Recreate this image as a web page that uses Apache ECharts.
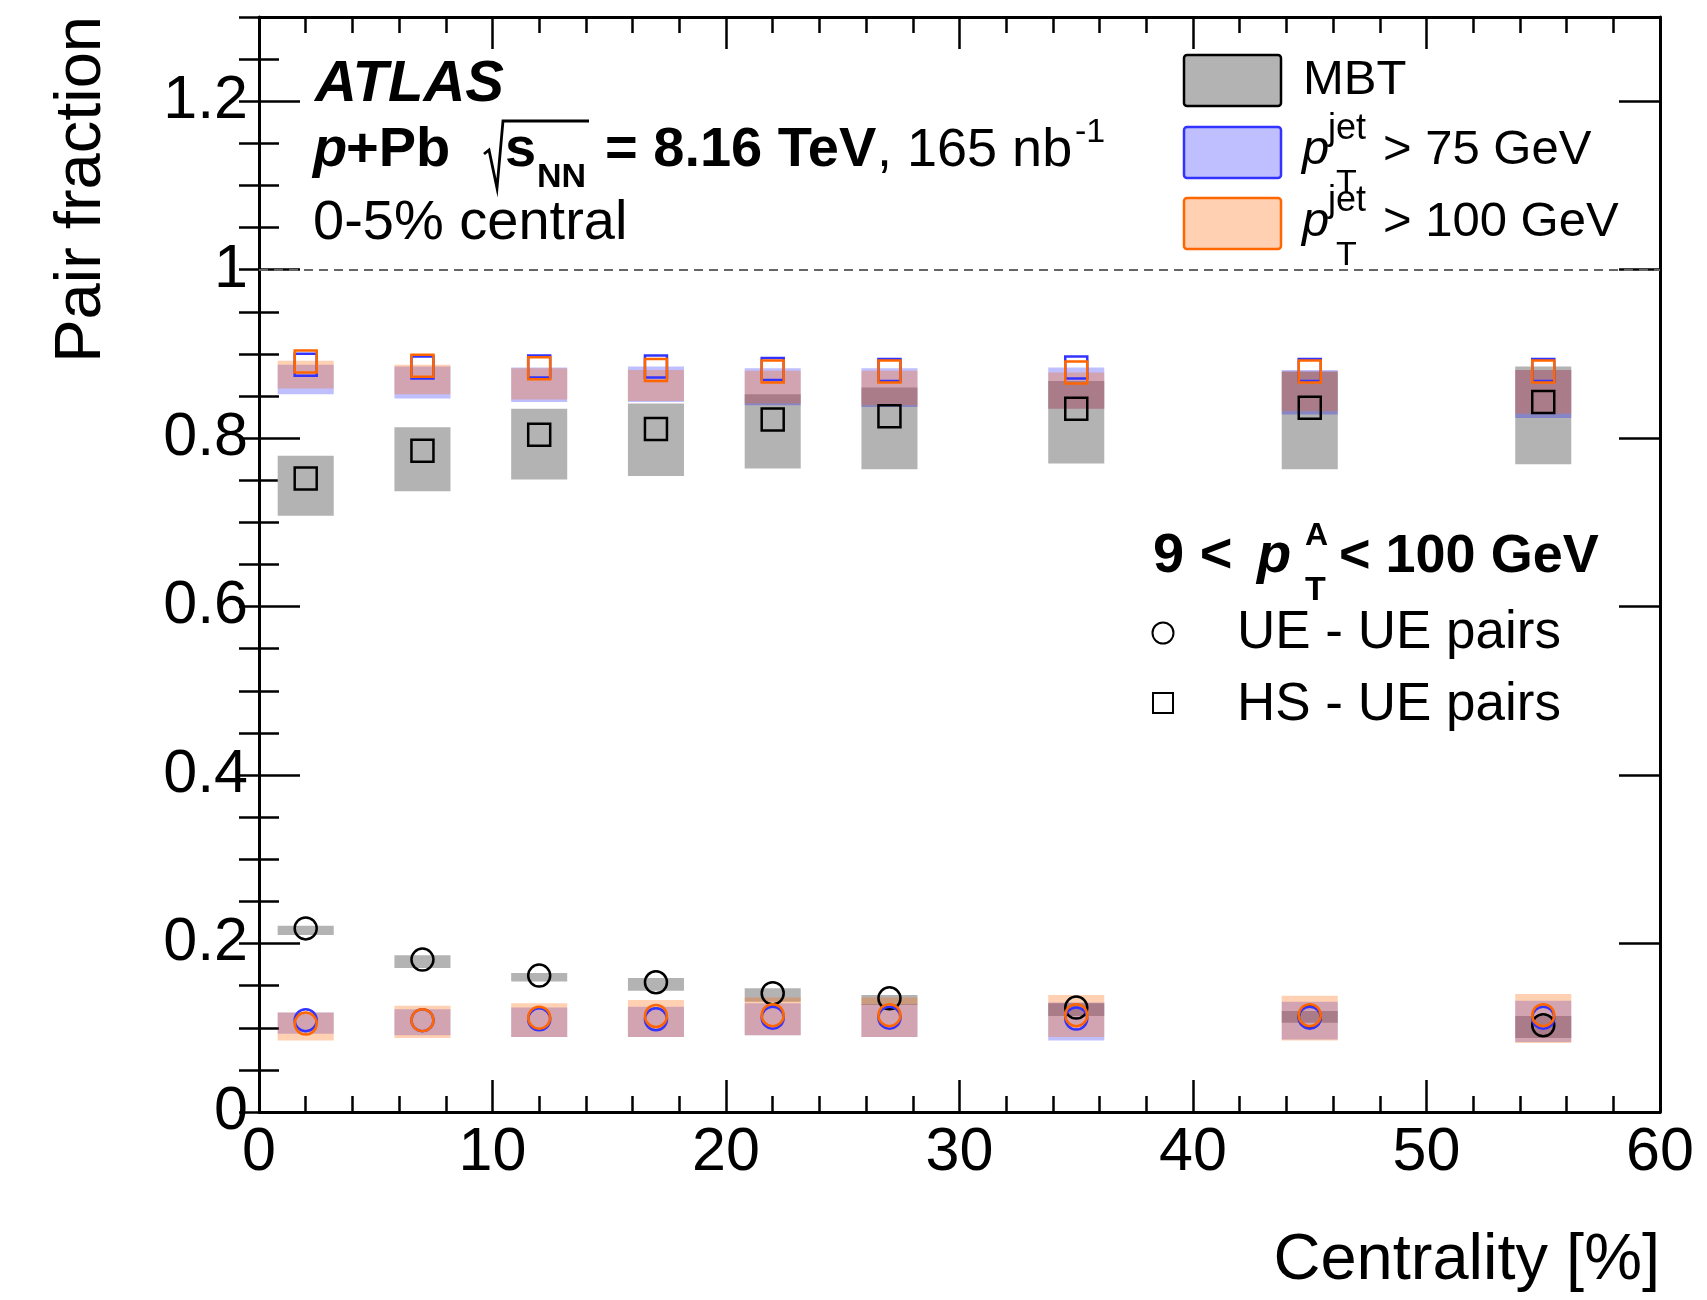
<!DOCTYPE html>
<html>
<head>
<meta charset="utf-8">
<title>Pair fraction vs centrality</title>
<script src="https://cdn.jsdelivr.net/npm/echarts@6/dist/echarts.min.js"></script>
<style>
  html, body { margin: 0; padding: 0; background: #fff; }
  #chart { width: 1707px; height: 1300px; }
</style>
</head>
<body>
<div id="chart"></div>
<script>
// Centrality bin positions [%]
const centrality = [2, 7, 12, 17, 22, 27, 35, 45, 55];

// HS - UE pairs (squares)
const hsMbt       = [0.752, 0.785, 0.804, 0.811, 0.822, 0.826, 0.835, 0.836, 0.843];
const hsMbtLow    = [0.708, 0.737, 0.751, 0.755, 0.764, 0.763, 0.770, 0.763, 0.769];
const hsMbtHigh   = [0.779, 0.813, 0.835, 0.841, 0.852, 0.860, 0.868, 0.879, 0.885];
const hsJet75     = [0.887, 0.884, 0.885, 0.885, 0.882, 0.881, 0.884, 0.881, 0.881];
const hsJet75Low  = [0.852, 0.847, 0.843, 0.843, 0.839, 0.837, 0.835, 0.828, 0.824];
const hsJet75High = [0.887, 0.885, 0.884, 0.885, 0.883, 0.883, 0.884, 0.881, 0.881];
const hsJet100     = [0.891, 0.886, 0.883, 0.881, 0.879, 0.879, 0.878, 0.879, 0.879];
const hsJet100Low  = [0.859, 0.852, 0.846, 0.844, 0.841, 0.839, 0.835, 0.832, 0.829];
const hsJet100High = [0.892, 0.887, 0.883, 0.881, 0.880, 0.880, 0.878, 0.879, 0.881];

// UE - UE pairs (circles)
const ueMbt       = [0.218, 0.181, 0.162, 0.154, 0.141, 0.135, 0.124, 0.113, 0.103];
const ueMbtLow    = [0.210, 0.171, 0.155, 0.144, 0.131, 0.127, 0.114, 0.106, 0.088];
const ueMbtHigh   = [0.221, 0.186, 0.165, 0.159, 0.147, 0.139, 0.129, 0.120, 0.114];
const ueJet75     = [0.109, 0.109, 0.110, 0.110, 0.112, 0.112, 0.111, 0.112, 0.112];
const ueJet75Low  = [0.093, 0.091, 0.089, 0.089, 0.091, 0.089, 0.085, 0.086, 0.083];
const ueJet75High = [0.118, 0.122, 0.124, 0.125, 0.129, 0.128, 0.130, 0.131, 0.132];
const ueJet100     = [0.105, 0.109, 0.112, 0.114, 0.115, 0.115, 0.115, 0.115, 0.115];
const ueJet100Low  = [0.085, 0.088, 0.089, 0.089, 0.091, 0.089, 0.089, 0.085, 0.082];
const ueJet100High = [0.118, 0.126, 0.129, 0.133, 0.136, 0.136, 0.139, 0.138, 0.140];

// Axis tick values
const xTicks = [0, 10, 20, 30, 40, 50, 60];
const yTicks = [0, 0.2, 0.4, 0.6, 0.8, 1, 1.2];

const FONT = '"Liberation Sans", Helvetica, Arial, sans-serif';
const BASE = 0.29;              // baseline offset below the text middle, in font sizes
const BIN_HALF = 1.2;           // half width of a systematic box, in centrality units
const GRAY = '#b3b3b3';
const BLUE = '#3333ff';
const BLUE_FILL = 'rgba(0,0,255,0.25)';
const ORANGE = '#ff6600';
const ORANGE_FILL = 'rgba(255,102,0,0.3)';

function boxes(lo, hi) {
  return centrality.map((c, i) => [c, lo[i], hi[i]]);
}
function points(vals) {
  return centrality.map((c, i) => [c, vals[i]]);
}

function boxSeries(data, fill) {
  return {
    type: 'custom',
    xAxisIndex: 0, yAxisIndex: 0,
    encode: { x: 0, y: [1, 2] },
    data: data,
    silent: true,
    renderItem: function (params, api) {
      const x = api.value(0), lo = api.value(1), hi = api.value(2);
      const p1 = api.coord([x - BIN_HALF, hi]);
      const p2 = api.coord([x + BIN_HALF, lo]);
      return {
        type: 'rect',
        shape: { x: p1[0], y: p1[1], width: p2[0] - p1[0], height: p2[1] - p1[1] },
        style: { fill: fill, stroke: null }
      };
    }
  };
}

function markerSeries(data, symbol, color, extra) {
  return Object.assign({
    type: 'scatter',
    xAxisIndex: 0, yAxisIndex: 0,
    data: data,
    symbol: symbol,
    symbolSize: 22,
    silent: true,
    itemStyle: { color: 'rgba(0,0,0,0)', borderColor: color, borderWidth: 2.5, opacity: 1 }
  }, extra || {});
}

// Horizontal text placed by its baseline
function txt(x, baseline, text, size, opt) {
  opt = opt || {};
  return {
    type: 'text',
    x: x,
    y: baseline - BASE * size,
    style: {
      text: text,
      fontSize: size,
      fontFamily: FONT,
      fontWeight: opt.bold ? 'bold' : 'normal',
      fontStyle: opt.italic ? 'italic' : 'normal',
      fill: '#000',
      align: opt.align || 'left',
      verticalAlign: 'middle'
    }
  };
}

const tickLine = { color: '#000', width: 2.5 };
const frameLine = { show: true, onZero: false, lineStyle: { color: '#000', width: 3 } };

function xAxisDef(position, showLabels) {
  return {
    type: 'value', position: position, min: 0, max: 60, interval: 10,
    axisLine: frameLine,
    axisTick: { show: true, inside: true, length: 32, lineStyle: tickLine },
    minorTick: { show: true, splitNumber: 5, length: 16, lineStyle: tickLine },
    splitLine: { show: false }, minorSplitLine: { show: false },
    axisLabel: {
      show: showLabels, fontSize: 61, fontFamily: FONT, color: '#000', margin: 11,
      formatter: v => (xTicks.indexOf(v) >= 0 ? String(v) : '')
    }
  };
}
function yAxisDef(position, interval, len, showLabels, showLine) {
  return {
    type: 'value', position: position, min: 0, max: 1.3, interval: interval,
    axisLine: showLine ? frameLine : { show: false },
    axisTick: { show: true, inside: true, length: len, lineStyle: tickLine },
    splitLine: { show: false },
    axisLabel: {
      show: showLabels, fontSize: 61, fontFamily: FONT, color: '#000', margin: 11,
      showMaxLabel: false,
      formatter: v => {
        const hit = yTicks.find(t => Math.abs(t - v) < 1e-6);
        return hit === undefined ? '' : String(hit);
      }
    }
  };
}

const chart = echarts.init(document.getElementById('chart'), null, { renderer: 'canvas' });

chart.setOption({
  animation: false,
  backgroundColor: '#fff',
  grid: { left: 259, right: 47, top: 17, bottom: 188, containLabel: false, outerBoundsMode: 'none' },
  xAxis: [xAxisDef('bottom', true), xAxisDef('top', false)],
  yAxis: [
    yAxisDef('left', 0.2, 41, true, true),
    yAxisDef('left', 0.05, 20, false, false),
    yAxisDef('right', 0.2, 41, false, true),
    yAxisDef('right', 0.05, 20, false, false)
  ],
  series: [
    // minimum-bias trigger
    boxSeries(boxes(hsMbtLow, hsMbtHigh), GRAY),
    boxSeries(boxes(ueMbtLow, ueMbtHigh), GRAY),
    markerSeries(points(hsMbt), 'rect', '#000', {
      markLine: {
        silent: true, symbol: ['none', 'none'], label: { show: false },
        lineStyle: { type: [9, 6], color: '#666', width: 2 },
        data: [{ yAxis: 1 }]
      }
    }),
    markerSeries(points(ueMbt), 'circle', '#000'),
    // jet pT > 75 GeV
    boxSeries(boxes(hsJet75Low, hsJet75High), BLUE_FILL),
    boxSeries(boxes(ueJet75Low, ueJet75High), BLUE_FILL),
    markerSeries(points(hsJet75), 'rect', BLUE),
    markerSeries(points(ueJet75), 'circle', BLUE),
    // jet pT > 100 GeV
    boxSeries(boxes(hsJet100Low, hsJet100High), ORANGE_FILL),
    boxSeries(boxes(ueJet100Low, ueJet100High), ORANGE_FILL),
    markerSeries(points(hsJet100), 'rect', ORANGE),
    markerSeries(points(ueJet100), 'circle', ORANGE)
  ],
  graphic: [
    // axis titles
    {
      type: 'text', x: 101 - BASE * 65, y: 16, rotation: Math.PI / 2,
      style: { text: 'Pair fraction', fontSize: 65, fontFamily: FONT, fill: '#000',
               align: 'right', verticalAlign: 'middle' }
    },
    txt(1660, 1280, 'Centrality [%]', 65, { align: 'right' }),

    // experiment label
    txt(315, 102, 'ATLAS', 58, { bold: true, italic: true }),
    txt(313, 167, 'p', 56, { bold: true, italic: true }),
    txt(346, 167, '+Pb', 56, { bold: true }),
    {
      type: 'polyline',
      shape: { points: [[484, 154], [489, 150], [497, 188], [503, 121], [589, 121]] },
      style: { stroke: '#000', lineWidth: 2.8, fill: null }
    },
    txt(505, 167, 's', 56, { bold: true }),
    txt(537, 187, 'NN', 34, { bold: true }),
    txt(605, 167, '= 8.16 TeV', 56, { bold: true }),
    txt(877, 167, ', 165 nb', 54),
    txt(1075, 142, '-1', 34),
    txt(313, 240, '0-5% central', 56),

    // sample legend
    { type: 'rect', shape: { x: 1184, y: 55, width: 97, height: 51, r: 3 },
      style: { fill: GRAY, stroke: '#000', lineWidth: 2.5 } },
    { type: 'rect', shape: { x: 1184, y: 127, width: 97, height: 51, r: 3 },
      style: { fill: BLUE_FILL, stroke: BLUE, lineWidth: 2.5 } },
    { type: 'rect', shape: { x: 1184, y: 198, width: 97, height: 51, r: 3 },
      style: { fill: ORANGE_FILL, stroke: ORANGE, lineWidth: 2.5 } },
    txt(1303, 95, 'MBT', 49),
    txt(1302, 165, 'p', 49, { italic: true }),
    txt(1328, 140, 'jet', 36),
    txt(1336, 193, 'T', 34),
    txt(1383, 165, '> 75 GeV', 49),
    txt(1302, 237, 'p', 49, { italic: true }),
    txt(1328, 212, 'jet', 36),
    txt(1336, 265, 'T', 34),
    txt(1383, 237, '> 100 GeV', 49),

    // pair-type legend
    txt(1153, 573, '9 <', 56, { bold: true }),
    txt(1257, 573, 'p', 56, { bold: true, italic: true }),
    txt(1305, 545, 'A', 32, { bold: true }),
    txt(1305, 600, 'T', 34, { bold: true }),
    txt(1339, 573, '< 100 GeV', 54, { bold: true }),
    { type: 'circle', shape: { cx: 1163, cy: 633, r: 10.5 },
      style: { fill: null, stroke: '#000', lineWidth: 2 } },
    txt(1237, 649, 'UE - UE pairs', 53),
    { type: 'rect', shape: { x: 1153, y: 693, width: 20, height: 20 },
      style: { fill: null, stroke: '#000', lineWidth: 2 } },
    txt(1237, 721, 'HS - UE pairs', 53)
  ]
});
</script>
</body>
</html>
